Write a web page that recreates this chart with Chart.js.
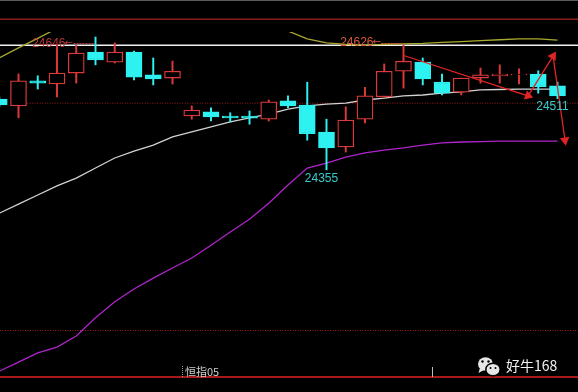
<!DOCTYPE html>
<html>
<head>
<meta charset="utf-8">
<title>恒指05</title>
<script src="https://cdn.jsdelivr.net/npm/chart.js@4.4.1/dist/chart.umd.min.js"></script>
<style>
  html, body { margin: 0; padding: 0; background: #000; overflow: hidden; }
  #wrap { width: 578px; height: 392px; }
  canvas { display: block; }
</style>
</head>
<body>
<div id="wrap"><canvas id="kline" width="578" height="392"></canvas></div>
<script>
// ---- Data ----
const sessions = Array.from({ length: 30 }, (_, i) => i);

const opens  = [24510, 24495, 24550, 24543, 24567, 24613, 24591, 24613, 24563, 24556,
                24473, 24482, 24473, 24473, 24466, 24506, 24497, 24438, 24405, 24466,
                24515, 24571, 24591, 24547, 24525, 24556, 24561, 24563, 24565, 24539];
const highs  = [24515, 24565, 24561, 24628, 24628, 24646, 24633, 24615, 24600, 24593,
                24495, 24491, 24480, 24484, 24508, 24517, 24547, 24466, 24493, 24536,
                24587, 24628, 24600, 24565, 24556, 24578, 24585, 24576, 24572, 24547];
const lows   = [24493, 24469, 24532, 24515, 24545, 24585, 24589, 24552, 24541, 24543,
                24466, 24462, 24460, 24455, 24462, 24491, 24420, 24355, 24394, 24458,
                24514, 24534, 24541, 24519, 24519, 24545, 24545, 24543, 24523, 24511];
const closes = [24497, 24550, 24545, 24567, 24611, 24596, 24613, 24558, 24554, 24571,
                24486, 24471, 24469, 24468, 24504, 24495, 24434, 24403, 24464, 24517,
                24571, 24593, 24554, 24523, 24556, 24563, 24565, 24565, 24537, 24517];

// moving averages
const maShort = [24260, 24280, 24300, 24320, 24337, 24359, 24381, 24396, 24409, 24427,
                 24438, 24449, 24460, 24469, 24477, 24488, 24495, 24499, 24501, 24508,
                 24512, 24517, 24519, 24523, 24526, 24530, 24531, 24532, 24532, 24532];
const maMid   = [24600, 24622, 24643, 24665, null, null, null, null, null, null,
                 null, null, null, null, 24679, 24659, 24642, 24633, 24630, 24628,
                 24630, 24631, 24632, 24634, 24636, 24638, 24640, 24642, 24642, 24639];
const maLong  = [23914, 23934, 23954, 23967, 23991, 24031, 24066, 24094, 24118, 24140,
                 24162, 24190, 24219, 24247, 24282, 24322, 24359, 24370, 24383, 24392,
                 24398, 24403, 24409, 24414, 24416, 24417, 24418, 24418, 24418, 24418];

// horizontal levels
const whiteLevel  = 24628;
const dottedLevel = 24501;

// hand drawn arrows (session position, price)
const arrowX = [20.97, 27.47, 28.77, 29.39];
const arrowY = [24606, 24517, 24604, 24420];

// price marks
const peakMarks   = [{ i: 5, text: '24646' }, { i: 21, text: '24626' }];
const troughMarks = [{ i: 17, text: '24355' }, { i: 29, text: '24511' }];

// ---- Style ----
const UP = '#dc3a3a';
const DOWN = '#2ef2f2';
const SLOT = 19.25;              // px per session
const X_MIN = 0.75 / SLOT;
const X_MAX = X_MIN + 578 / SLOT;
const Y_MAX = 24727;
const Y_MIN = Y_MAX - 2.19 * 392;

const isUp = (i) => closes[i] >= opens[i];

// ---- Overlay: panel lines, marks, watermark ----
const overlay = {
  id: 'overlay',
  beforeDraw(chart) {
    const c = chart.ctx;
    c.save();
    c.fillStyle = '#000';
    c.fillRect(0, 0, chart.width, chart.height);
    // panel borders
    c.fillStyle = '#5a5a5a';
    c.fillRect(0, 0, chart.width, 1);
    c.fillStyle = '#8a1c1c';
    c.fillRect(0, 18.5, chart.width, 1.5);
    c.strokeStyle = '#962222';
    c.lineWidth = 1;
    c.setLineDash([1, 1.5]);
    c.beginPath();
    c.moveTo(0, 330.5); c.lineTo(chart.width, 330.5);
    c.stroke();
    c.setLineDash([]);
    c.fillStyle = '#a81818';
    c.fillRect(0, 376, chart.width, 2);
    c.restore();
  },
  afterDatasetsDraw(chart) {
    const c = chart.ctx;
    const xs = chart.scales.x, ys = chart.scales.y;
    c.save();

    // highs: "24646 ←----"
    const peakNudge = [6.5, -2.5];
    const peakColors = ['#b83434', '#d8583a'];
    peakMarks.forEach((m, k) => {
      const cx = xs.getPixelForValue(m.i);
      const cy = ys.getPixelForValue(highs[m.i]) + peakNudge[k];
      c.font = '12px "Liberation Sans", Arial, sans-serif';
      c.textBaseline = 'middle';
      c.textAlign = 'right';
      c.fillStyle = peakColors[k];
      c.fillText(m.text, cx - 30, cy);
      c.textAlign = 'left';
      c.font = '10px "DejaVu Sans", sans-serif';
      c.fillText('←', cx - 31, cy);
      c.strokeStyle = peakColors[k];
      c.setLineDash([2, 1]);
      c.lineWidth = 1;
      c.beginPath();
      c.moveTo(cx - 22, Math.round(cy) + 0.5);
      c.lineTo(cx - 2, Math.round(cy) + 0.5);
      c.stroke();
      c.setLineDash([]);
    });

    // lows
    c.font = '12px "Liberation Sans", Arial, sans-serif';
    c.textAlign = 'center';
    c.textBaseline = 'middle';
    c.fillStyle = '#38cccc';
    troughMarks.forEach((m) => {
      const cx = xs.getPixelForValue(m.i);
      const cy = ys.getPixelForValue(lows[m.i]);
      c.fillText(m.text, cx - 5, cy + 8.5);
    });

    // bottom strip
    c.strokeStyle = '#9a9a9a';
    c.setLineDash([1, 1]);
    c.beginPath();
    c.moveTo(182.5, 366); c.lineTo(182.5, 377);
    c.stroke();
    c.setLineDash([]);
    c.strokeStyle = '#bdbdbd';
    c.beginPath();
    c.moveTo(432.5, 367); c.lineTo(432.5, 377);
    c.stroke();

    c.font = '11px "Noto Sans CJK SC", sans-serif';
    c.textAlign = 'left';
    c.fillStyle = '#cfcfcf';
    c.fillText('恒指05', 185, 371.5);

    // watermark
    c.fillStyle = '#e6e6e6';
    c.beginPath();
    c.ellipse(485.5, 364, 7.5, 6.8, 0, 0, Math.PI * 2);
    c.fill();
    c.beginPath();
    c.moveTo(480, 368); c.lineTo(478.5, 373); c.lineTo(484, 370);
    c.fill();
    c.strokeStyle = '#000';
    c.lineWidth = 1.5;
    c.beginPath();
    c.ellipse(493, 369.5, 7.2, 6.3, 0, 0, Math.PI * 2);
    c.fill();
    c.stroke();
    c.fillStyle = '#000';
    [[482.5, 361.5, 1.2], [488.5, 361.5, 1.2], [490.5, 368, 1], [495.5, 368, 1]].forEach((e) => {
      c.beginPath();
      c.arc(e[0], e[1], e[2], 0, Math.PI * 2);
      c.fill();
    });
    c.font = '14px "Noto Sans CJK SC", sans-serif';
    c.fillStyle = '#f2f2f2';
    c.fillText('好牛168', 506, 365.5);
    c.restore();
  }
};

// ---- Datasets ----
const bodies = {
  type: 'bar',
  order: 0,
  grouped: false,
  barThickness: 16,
  borderWidth: 1.3,
  borderSkipped: false,
  data: sessions.map((i) => ({ x: i, y: [opens[i], closes[i]] })),
  backgroundColor: sessions.map((i) => (isUp(i) ? '#000' : DOWN)),
  borderColor: sessions.map((i) => (isUp(i) ? UP : DOWN))
};

const wicks = {
  type: 'bar',
  order: 1,
  grouped: false,
  barThickness: 1.3,
  borderWidth: 0,
  data: sessions.map((i) => ({ x: i, y: [lows[i], highs[i]] })),
  backgroundColor: sessions.map((i) => (isUp(i) ? UP : DOWN))
};

function maLine(values, color, extra) {
  return Object.assign({
    type: 'line',
    order: 3,
    data: sessions.map((i) => ({ x: i, y: values[i] })),
    borderColor: color,
    borderWidth: 1.3,
    pointRadius: 0,
    spanGaps: false,
    tension: 0
  }, extra || {});
}

function levelLine(value, color, extra) {
  return Object.assign({
    type: 'line',
    order: 5,
    data: [{ x: -1, y: value }, { x: 31, y: value }],
    borderColor: color,
    borderWidth: 1,
    pointRadius: 0
  }, extra || {});
}

function arrowRotation(ctx) {
  const k = ctx.dataIndex;
  if (k === 0) return 0;
  const xs = ctx.chart.scales.x, ys = ctx.chart.scales.y;
  const dx = xs.getPixelForValue(arrowX[k]) - xs.getPixelForValue(arrowX[k - 1]);
  const dy = ys.getPixelForValue(arrowY[k]) - ys.getPixelForValue(arrowY[k - 1]);
  return Math.atan2(dy, dx) * 180 / Math.PI + 90;
}

const arrows = {
  type: 'line',
  order: -1,
  data: arrowX.map((x, k) => ({ x: x, y: arrowY[k] })),
  borderColor: '#e02424',
  borderWidth: 1.3,
  pointStyle: 'triangle',
  pointRadius: [0, 5.5, 5.5, 5.5],
  pointRotation: arrowRotation,
  pointBackgroundColor: '#e02424',
  pointBorderWidth: 0,
  tension: 0
};

// ---- Chart ----
new Chart(document.getElementById('kline'), {
  type: 'bar',
  data: {
    datasets: [
      bodies,
      wicks,
      maLine(maShort, '#d2d2d2'),
      maLine(maMid, '#a8a830', { clip: { left: 5, top: -32, right: 5, bottom: 5 } }),
      maLine(maLong, '#b024cc'),
      levelLine(whiteLevel, '#f2f2f2', { borderWidth: 1.6 }),
      levelLine(dottedLevel, '#962020', { borderDash: [1, 1.5], data: [{ x: 1.45, y: dottedLevel }, { x: 31, y: dottedLevel }] }),
      arrows
    ]
  },
  options: {
    responsive: false,
    animation: false,
    devicePixelRatio: 1,
    events: [],
    layout: { padding: 0, autoPadding: false },
    plugins: { legend: { display: false }, tooltip: { enabled: false } },
    scales: {
      x: { type: 'linear', min: X_MIN, max: X_MAX, offset: false, display: false },
      y: { type: 'linear', min: Y_MIN, max: Y_MAX, display: false }
    }
  },
  plugins: [overlay]
});
</script>
</body>
</html>
